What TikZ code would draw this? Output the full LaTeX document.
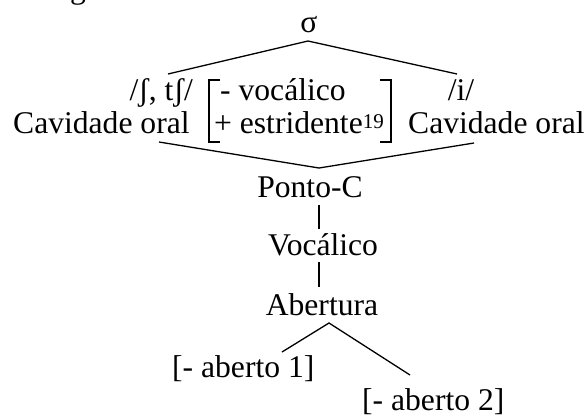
\documentclass[tikz,border=0pt]{standalone}
\usepackage{fontspec}
\setmainfont{Liberation Serif}
\newcommand{\supnum}[1]{\raisebox{5pt}{\fontsize{21}{24}\selectfont #1}}
\begin{document}
\begin{tikzpicture}[x=1pt,y=-1pt,
  lbl/.style={inner sep=0pt,font=\fontsize{31.6}{36}\selectfont},
  edge/.style={line width=1.3pt},
  brk/.style={line width=2.2pt}]
\useasboundingbox (0,0) rectangle (587,416);

% fragment of the preceding text line
\node[lbl,anchor=base] (frag) at (78,-2) {g};

% labels
\node[lbl,anchor=base] (sigma) at (309,32) {σ};
\node[lbl,anchor=base east] (phonA) at (193,100) {/ʃ, tʃ/};
\node[lbl,anchor=base west] (cavA) at (13,133) {Cavidade oral};
\node[lbl,anchor=base west] (featA) at (220,100) {- vocálico};
\node[lbl,anchor=base west] (featB) at (214,133) {+ estridente\supnum{19}};
\node[lbl,anchor=base] (phonB) at (461,100) {/i/};
\node[lbl,anchor=base west] (cavB) at (408,133) {Cavidade oral};
\node[lbl,anchor=base] (ponto) at (310,197) {Ponto-C};
\node[lbl,anchor=base] (voc) at (323,255) {Vocálico};
\node[lbl,anchor=base] (abert) at (322,315) {Abertura};
\node[lbl,anchor=base west] (abA) at (172,377) {[- aberto 1]};
\node[lbl,anchor=base west] (abB) at (362,410) {[- aberto 2]};

% branching points
\coordinate (sTop) at (308,41);
\coordinate (sL) at (168,74);
\coordinate (sR) at (457,74);
\coordinate (cL) at (159,142);
\coordinate (cTop) at (319,168);
\coordinate (cR) at (474,143);
\coordinate (pcB) at (319,205);
\coordinate (vocT) at (319,229);
\coordinate (vocB) at (319,262);
\coordinate (abT) at (319,287);
\coordinate (aTop) at (329,323);
\coordinate (aL) at (282,352);
\coordinate (aR) at (410,375);

% tree lines
\draw[edge] (sL) -- (sTop) -- (sR);
\draw[edge] (cL) -- (cTop) -- (cR);
\draw[edge] (pcB) -- (vocT);
\draw[edge] (vocB) -- (abT);
\draw[edge] (aL) -- (aTop) -- (aR);

% feature matrix brackets
\draw[brk] (220,80) -- (209,80) -- (209,142) -- (220,142);
\draw[brk] (380,80) -- (391,80) -- (391,142) -- (380,142);
\end{tikzpicture}
\end{document}
